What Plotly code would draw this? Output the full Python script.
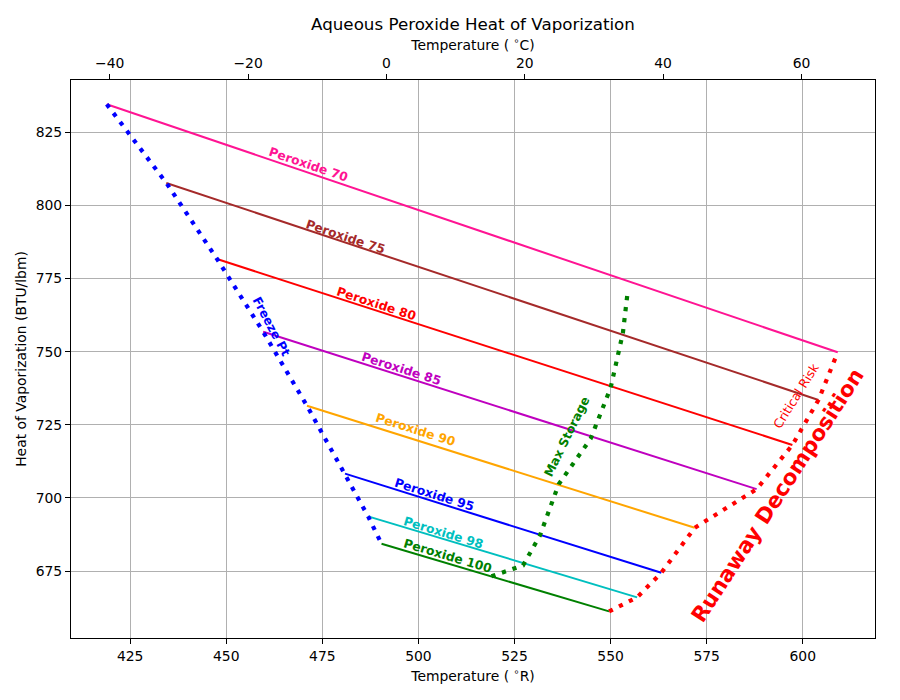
import numpy as np
import plotly.graph_objects as go

# ---------------- data ----------------
concentrations = [70, 75, 80, 85, 90, 95, 98, 100]
line_names = ["Peroxide 70", "Peroxide 75", "Peroxide 80", "Peroxide 85",
              "Peroxide 90", "Peroxide 95", "Peroxide 98", "Peroxide 100"]
# freezing point (start of each line): temperature (R) and heat of vaporization
freeze_R = [418.9, 434.4, 447.6, 459.6, 471.0, 480.9, 486.9, 490.4]
freeze_hv = [834.6, 807.7, 781.7, 756.8, 731.5, 708.3, 693.7, 684.3]
# decomposition point (end of each line)
decomp_R = [609.1, 604.1, 597.3, 588.0, 571.9, 563.2, 556.9, 549.6]
decomp_hv = [749.8, 733.5, 718.1, 703.0, 689.8, 674.4, 666.0, 661.2]
# max storage curve
maxstor_R = [519.0, 527.2, 531.6, 536.5, 544.8, 550.0, 553.2, 554.5]
maxstor_hv = [673.2, 676.9, 687.1, 704.7, 720.2, 737.6, 756.4, 771.1]

# label anchors (data coords) and angles
label_R = [471.5, 481.0, 489.1, 495.6, 499.3, 504.3, 506.6, 507.5]
label_hv = [813.8, 789.1, 766.3, 744.1, 723.1, 701.1, 687.9, 680.1]
label_ang = [18.7, 18.4, 17.9, 17.7, 17.5, 17.4, 16.8, 16.6]

colors = ["#FF1493", "#A52A2A", "#FF0000", "#BF00BF",
          "#FFA500", "#0000FF", "#00BFBF", "#008000"]

FONT = "DejaVu Sans"
XR = [409.6, 618.8]
YR = [652.1, 842.9]


def r_to_c(r):
    return (np.asarray(r, dtype=float) - 491.67) / 1.8


fig = go.Figure()

for i in range(len(concentrations)):
    fig.add_trace(go.Scatter(
        x=[freeze_R[i], decomp_R[i]], y=[freeze_hv[i], decomp_hv[i]],
        mode="lines", line=dict(color=colors[i], width=2),
        showlegend=False, hoverinfo="skip"))

DOT = "4.2px,6.9px"
fig.add_trace(go.Scatter(x=freeze_R, y=freeze_hv, mode="lines",
                         line=dict(color="#0000FF", width=4.2, dash=DOT),
                         showlegend=False, hoverinfo="skip"))
fig.add_trace(go.Scatter(x=decomp_R[::-1], y=decomp_hv[::-1], mode="lines",
                         line=dict(color="#FF0000", width=4.2, dash=DOT),
                         showlegend=False, hoverinfo="skip"))
fig.add_trace(go.Scatter(x=maxstor_R, y=maxstor_hv, mode="lines",
                         line=dict(color="#008000", width=4.2, dash=DOT),
                         showlegend=False, hoverinfo="skip"))

# invisible trace on the top (Celsius) axis so it is drawn
fig.add_trace(go.Scatter(x=r_to_c(freeze_R), y=freeze_hv, xaxis="x2",
                         mode="markers", marker=dict(opacity=0),
                         showlegend=False, hoverinfo="skip"))

ann = []
for i, name in enumerate(line_names):
    ann.append(dict(x=label_R[i], y=label_hv[i], xref="x", yref="y",
                    text="<b>%s</b>" % name, showarrow=False,
                    textangle=label_ang[i],
                    font=dict(family=FONT, size=12.3, color=colors[i]),
                    xanchor="center", yanchor="middle"))

ann += [
    dict(x=461.8, y=758.6, xref="x", yref="y", text="<b>Freeze Pt</b>",
         showarrow=False, textangle=62,
         font=dict(family=FONT, size=12.3, color="#0000FF")),
    dict(x=538.7, y=720.7, xref="x", yref="y", text="<b>Max Storage</b>",
         showarrow=False, textangle=-64,
         font=dict(family=FONT, size=12.3, color="#008000")),
    dict(x=598.3, y=735.0, xref="x", yref="y", text="Critical Risk",
         showarrow=False, textangle=-58,
         font=dict(family=FONT, size=12.5, color="#FF0000")),
    dict(x=593.4, y=700.8, xref="x", yref="y", text="<b>Runaway Decomposition</b>",
         showarrow=False, textangle=-57,
         font=dict(family=FONT, size=21.5, color="#FF0000")),
]

axis_common = dict(showline=True, linecolor="black", linewidth=1.1,
                   ticks="outside", ticklen=5, tickwidth=1.1, tickcolor="black",
                   zeroline=False,
                   tickfont=dict(family=FONT, size=13.9, color="black"))

fig.update_layout(
    width=900, height=700,
    margin=dict(l=71, r=25, t=80, b=62),
    plot_bgcolor="white", paper_bgcolor="white",
    showlegend=False,
    font=dict(family=FONT, color="black"),
    title=dict(text="Aqueous Peroxide Heat of Vaporization",
               x=0.5, xref="paper", xanchor="center",
               y=1 - 24 / 700, yref="container", yanchor="middle",
               font=dict(family=FONT, size=16.7, color="black")),
    xaxis=dict(range=XR, tick0=0, dtick=25, showgrid=True,
               gridcolor="#b0b0b0", gridwidth=1.1, mirror=False,
               title=dict(text="Temperature ( <sup>∘</sup>R)", standoff=8,
                          font=dict(family=FONT, size=13.9)),
               **axis_common),
    xaxis2=dict(range=[float(r_to_c(XR[0])), float(r_to_c(XR[1]))],
                overlaying="x", side="top", anchor="y", tick0=0, dtick=20,
                showgrid=False,
                title=dict(text="Temperature ( <sup>∘</sup>C)", standoff=1,
                           font=dict(family=FONT, size=13.9)),
                **axis_common),
    yaxis=dict(range=YR, tick0=0, dtick=25, showgrid=True,
               gridcolor="#b0b0b0", gridwidth=1.1, mirror=True,
               title=dict(text="Heat of Vaporization (BTU/lbm)", standoff=5,
                          font=dict(family=FONT, size=13.9)),
               **axis_common),
    annotations=ann,
)

fig.write_html("out.html")
